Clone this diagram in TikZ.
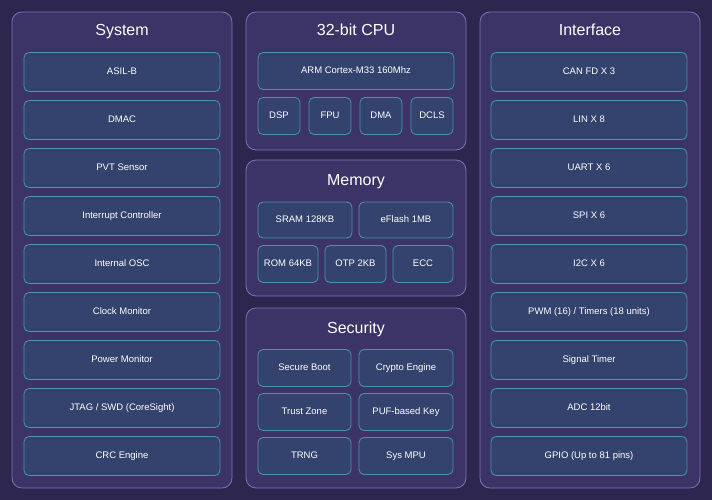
\documentclass[tikz,border=0pt]{standalone}
\usepackage{fontspec}
\setmainfont{Liberation Sans}
\definecolor{bg}{HTML}{2D2750}
\definecolor{pfill}{HTML}{3C3367}
\definecolor{pline}{HTML}{7E72B8}
\definecolor{ifill}{HTML}{34426E}
\definecolor{iline}{HTML}{4896AC}
\begin{document}
\begin{tikzpicture}[x=1pt,y=-1pt,
 panel/.style={draw=pline,fill=pfill,rounded corners=10pt,line width=0.8pt},
 item/.style={draw=iline,fill=ifill,rounded corners=5pt,line width=0.8pt,text=white,font=\fontsize{9.5}{11}\selectfont,text height=7pt,text depth=2pt},
 ttl/.style={text=white,font=\fontsize{16}{18}\selectfont,text height=11.5pt,text depth=3.5pt}]
\fill[bg] (0,0) rectangle (712,500);
\draw[panel] (12,12) rectangle (232,488);
\draw[panel] (246,12) rectangle (466,150);
\draw[panel] (246,160) rectangle (466,296);
\draw[panel] (246,308) rectangle (466,488);
\draw[panel] (480,12) rectangle (700,488);
\node[ttl] (tsys) at (122,32) {System};
\node[ttl] (tcpu) at (356,32) {32-bit CPU};
\node[ttl] (tmem) at (356,181) {Memory};
\node[ttl] (tsec) at (356,329) {Security};
\node[ttl] (tint) at (590,32) {Interface};
\foreach \t [count=\i] in {ASIL-B,DMAC,PVT Sensor,Interrupt Controller,Internal OSC,Clock Monitor,Power Monitor,JTAG / SWD (CoreSight),CRC Engine}
 \node[item,minimum width=196,minimum height=39] (s\i) at (122,24+48*\i) {\t};
\foreach \t [count=\i] in {CAN FD X 3,LIN X 8,UART X 6,SPI X 6,I2C X 6,PWM (16) / Timers (18 units),Signal Timer,ADC 12bit,GPIO (Up to 81 pins)}
 \node[item,minimum width=196,minimum height=39] (f\i) at (589,24+48*\i) {\t};
\node[item,minimum width=196,minimum height=37] (arm) at (356,71) {ARM Cortex-M33 160Mhz};
\foreach \t [count=\i] in {DSP,FPU,DMA,DCLS}
 \node[item,minimum width=42,minimum height=37] (c\i) at (228+51*\i,116) {\t};
\node[item,minimum width=94,minimum height=36] (sram) at (305,220) {SRAM 128KB};
\node[item,minimum width=94,minimum height=36] (efl) at (406,220) {eFlash 1MB};
\node[item,minimum width=60,minimum height=37] (rom) at (288,264) {ROM 64KB};
\node[item,minimum width=61,minimum height=37] (otp) at (355.5,264) {OTP 2KB};
\node[item,minimum width=60,minimum height=37] (ecc) at (423,264) {ECC};
\node[item,minimum width=93,minimum height=37] (sb) at (304.5,368) {Secure Boot};
\node[item,minimum width=94,minimum height=37] (ce) at (406,368) {Crypto Engine};
\node[item,minimum width=93,minimum height=37] (tz) at (304.5,412) {Trust Zone};
\node[item,minimum width=94,minimum height=37] (puf) at (406,412) {PUF-based Key};
\node[item,minimum width=93,minimum height=37] (trng) at (304.5,456) {TRNG};
\node[item,minimum width=94,minimum height=37] (mpu) at (406,456) {Sys MPU};
\end{tikzpicture}
\end{document}
